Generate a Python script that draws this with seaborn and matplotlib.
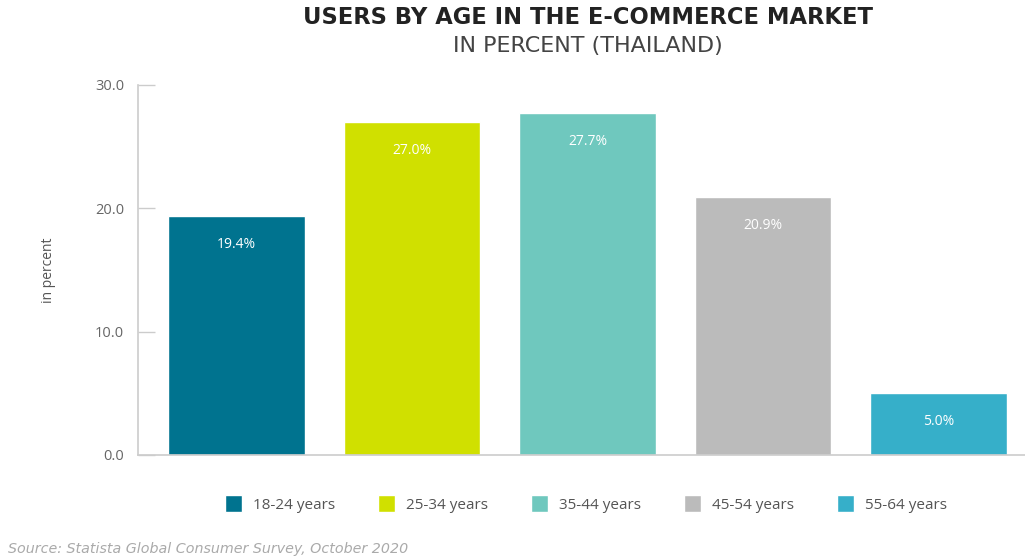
import matplotlib
matplotlib.use("Agg")
import matplotlib.pyplot as plt
import seaborn as sns
import pandas as pd

categories = ["18-24 years", "25-34 years", "35-44 years", "45-54 years", "55-64 years"]
values = [19.4, 27.0, 27.7, 20.9, 5.0]
colors = ["#00738F", "#D0E000", "#6FC8BE", "#BBBBBB", "#36AFC9"]
yticks = [0.0, 10.0, 20.0, 30.0]

sns.set_theme(style="white")
plt.rcParams['font.family'] = ['Open Sans', 'DejaVu Sans']

df = pd.DataFrame({"age": categories, "value": values})

fig = plt.figure(figsize=(10.25, 5.6), dpi=100)
ax = fig.add_axes([138/1025, 1 - 455/560, 1 - 138/1025, 370/560])

sns.barplot(data=df, x="age", y="value", hue="age", palette=colors,
            dodge=False, width=0.78, legend=True, ax=ax, saturation=1)

ax.set_ylim(0, 30)
ax.set_xlim(-0.561, 4.493)
ax.set_yticks(yticks)
ax.set_yticklabels([f"{v:.1f}" for v in yticks], color="#666666", fontsize=10.5)
ax.set_xticks([])
ax.set_xlabel("")
ax.set_ylabel("in percent", color="#555555", fontsize=10, labelpad=28)
ax.tick_params(axis="y", direction="in", length=12, width=1, color="#cccccc", pad=10, left=True)

for s in ["top", "right"]:
    ax.spines[s].set_visible(False)
for s in ["left", "bottom"]:
    ax.spines[s].set_color("#cccccc")
    ax.spines[s].set_linewidth(1.2)

for cont in ax.containers:
    ax.bar_label(cont, labels=[f"{v:.1f}%" for v in cont.datavalues], padding=-26,
                 color="white", fontsize=10)

h, l = ax.get_legend_handles_labels()
ax.legend_.remove()
fig.legend(h, l, loc="center", bbox_to_anchor=(586/1025, 1 - 504/560), ncol=5,
           frameon=False, fontsize=11, handlelength=1.1, handleheight=1.3,
           columnspacing=2.85, handletextpad=0.7, labelcolor="#555555")

fig.text(588/1025, 1 - 18/560, "USERS BY AGE IN THE E-COMMERCE MARKET", ha="center", va="center",
         fontsize=16.3, fontweight="bold", color="#222222", family="DejaVu Sans")
fig.text(588/1025, 1 - 46/560, "IN PERCENT (THAILAND)", ha="center", va="center",
         fontsize=16, color="#444444", family="DejaVu Sans")
fig.text(8/1025, 1 - 549/560, "Source: Statista Global Consumer Survey, October 2020", ha="left",
         va="center", fontsize=10.3, style="italic", color="#aaaaaa", family="DejaVu Sans")

fig.savefig("out.png", dpi=100)
